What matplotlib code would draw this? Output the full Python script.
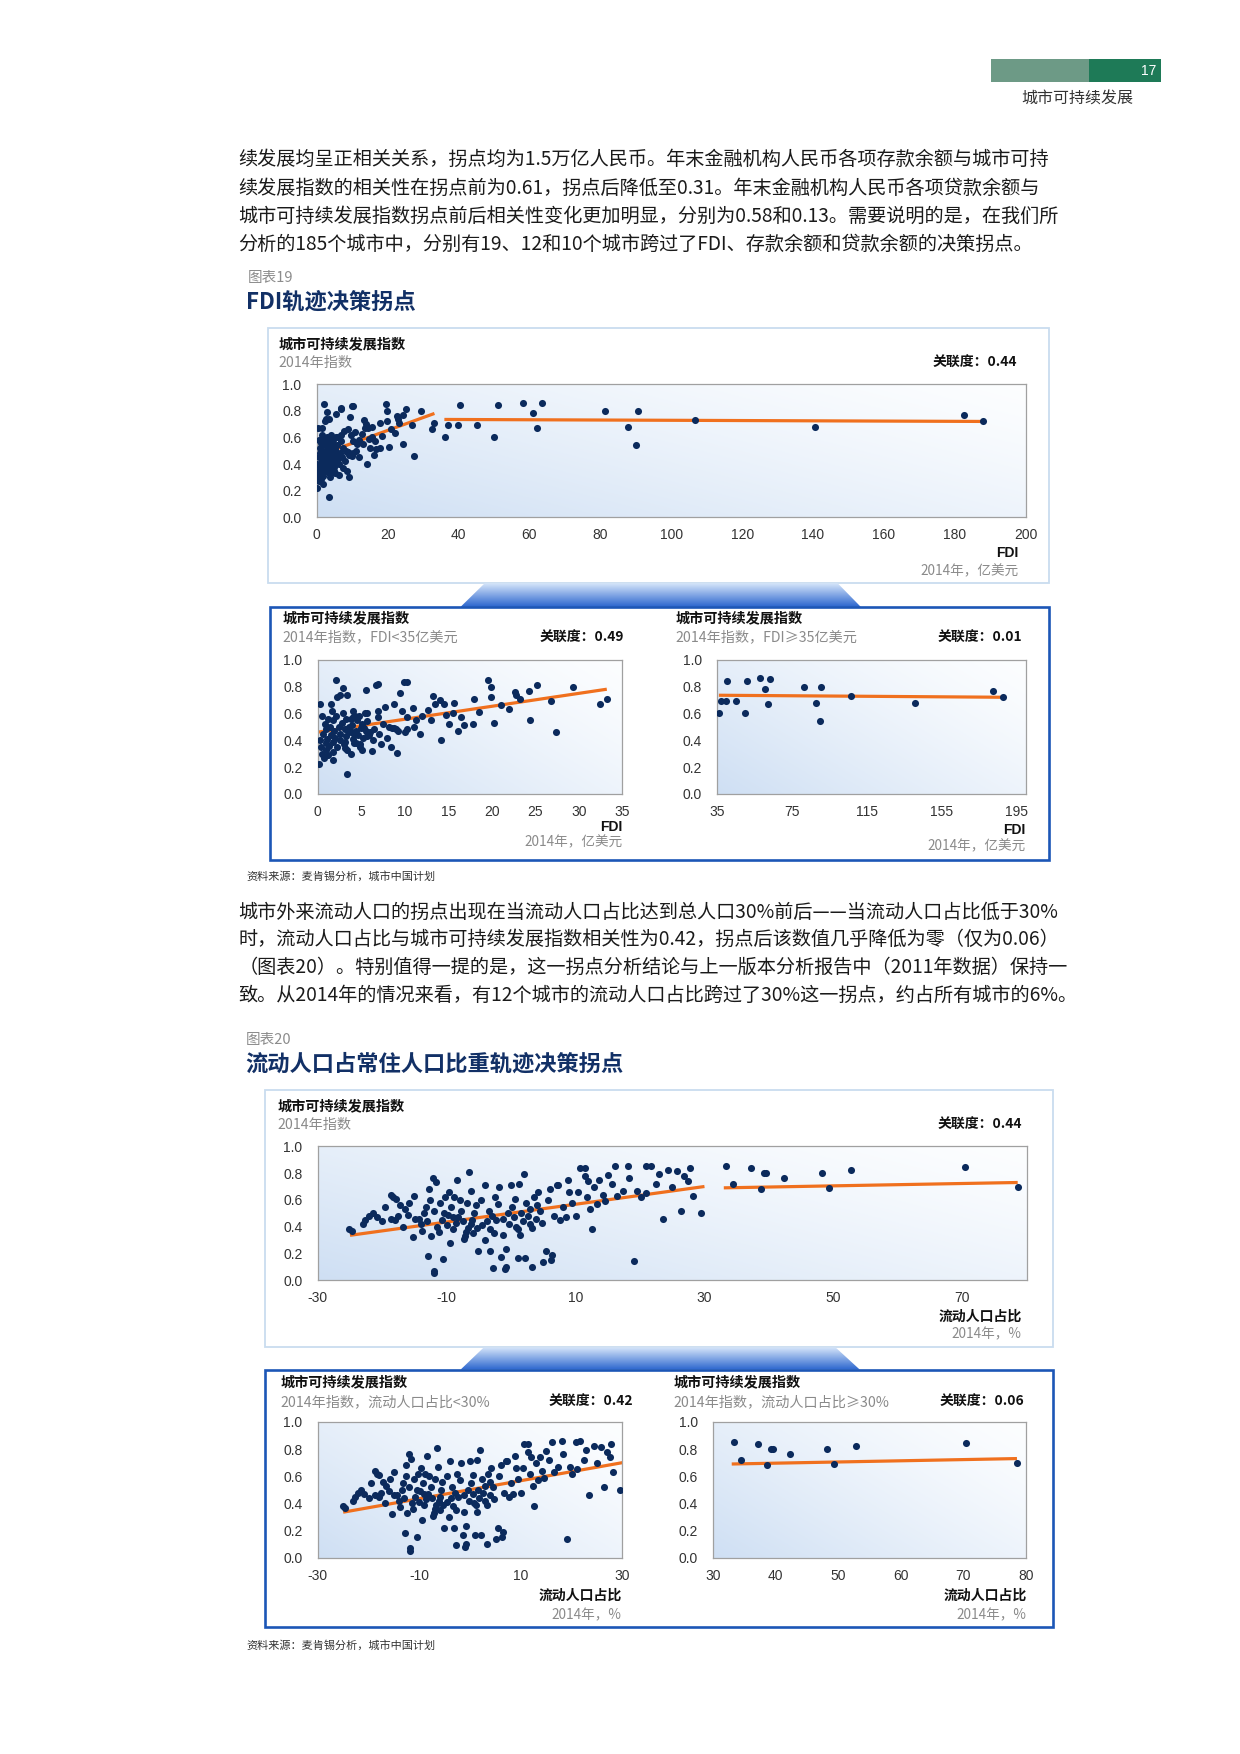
import numpy as np
import matplotlib
matplotlib.use("Agg")
import matplotlib.pyplot as plt
from matplotlib.patches import Polygon, Rectangle

plt.rcParams['font.family'] = ['Noto Sans CJK SC', 'DejaVu Sans']

W, H = 1240, 1754
S = 1.0056  # page layout scale
NAVY = '#0b2a5c'
ORANGE = '#f0701e'
GREY = '#8a8a8a'
TITLE = '#123066'

# ---------------- data: FDI (2014, 亿美元) vs 城市可持续发展指数 ----------------
fdi_x = [0.1, 0.2, 0.3, 0.4, 0.5, 0.5, 0.6, 0.7, 0.8, 0.9, 0.9, 1.0, 1.1, 1.2, 1.2, 1.3,
         1.4, 1.5, 1.6, 1.7, 1.7, 1.8, 1.9, 2.0, 2.1, 2.2, 1.5, 2.4, 2.5, 2.6, 1.7, 2.8,
         2.9, 3.0, 3.1, 3.2, 3.3, 3.4, 2.1, 3.6, 2.2, 3.8, 3.9, 4.0, 4.1, 4.2, 2.5, 4.4,
         4.5, 4.6, 4.7, 4.8, 2.9, 5.0, 5.1, 5.2, 3.1, 3.1, 5.4, 5.5, 3.4, 3.4, 5.7, 5.8,
         3.6, 3.8, 3.9, 4.1, 4.2, 4.3, 4.4, 4.8,
         5.1, 5.1, 5.5, 5.6, 5.7, 5.9, 6.0, 6.2, 6.7, 6.9, 6.9, 6.9, 7.3, 7.7, 8.2, 8.4,
         8.5, 8.7, 8.8, 9.0, 9.1, 9.2, 9.5, 9.7, 9.9, 10.3, 10.3, 10.3, 10.9, 11.3,
         7.0, 7.5, 6.5, 8.0, 10.0, 11.0, 5.3, 6.3,
         12.7, 13.2, 13.5, 14.0, 14.2, 14.5, 14.7, 15.1, 15.7, 16.1, 16.8, 17.8, 17.9,
         19.5, 19.9, 19.9, 20.3, 22.0, 22.6, 22.8, 23.2, 24.3, 24.4, 25.2, 26.8, 27.4,
         29.3, 32.4, 33.2, 12.0, 13.0, 15.5, 18.5, 21.0, 11.8, 16.5,
         36.2, 37.0, 39.8, 40.3, 45.3, 50.1, 51.2, 58.1, 60.9, 62.1, 63.5, 81.3, 87.9,
         90.7, 90.2, 106.7, 140.6, 182.5, 188.0]
fdi_y = [0.22, 0.40, 0.67, 0.35, 0.30, 0.58, 0.45, 0.27, 0.52, 0.38, 0.33, 0.48, 0.41, 0.56, 0.29, 0.36,
         0.50, 0.44, 0.62, 0.39, 0.55, 0.31, 0.47, 0.42, 0.58, 0.35, 0.67, 0.50, 0.45, 0.40, 0.25, 0.53,
         0.60, 0.37, 0.48, 0.43, 0.56, 0.33, 0.85, 0.46, 0.72, 0.30, 0.51, 0.41, 0.62, 0.38, 0.735, 0.47,
         0.55, 0.44, 0.58, 0.35, 0.79, 0.49, 0.52, 0.42, 0.39, 0.345, 0.60, 0.47, 0.74, 0.15, 0.54, 0.44,
         0.50, 0.56, 0.46, 0.57, 0.445, 0.58, 0.38, 0.375,
         0.33, 0.515, 0.775, 0.60, 0.43, 0.44, 0.46, 0.32, 0.815, 0.82, 0.62, 0.57, 0.37, 0.647, 0.50, 0.35,
         0.49, 0.667, 0.49, 0.48, 0.305, 0.47, 0.75, 0.62, 0.835, 0.835, 0.57, 0.48, 0.64, 0.55,
         0.45, 0.52, 0.48, 0.42, 0.46, 0.50, 0.49, 0.40,
         0.625, 0.73, 0.67, 0.70, 0.40, 0.67, 0.59, 0.52, 0.68, 0.47, 0.51, 0.52, 0.71,
         0.85, 0.80, 0.725, 0.53, 0.63, 0.76, 0.74, 0.71, 0.77, 0.55, 0.81, 0.69, 0.46,
         0.80, 0.667, 0.71, 0.58, 0.55, 0.60, 0.61, 0.66, 0.45, 0.57,
         0.60, 0.695, 0.695, 0.84, 0.695, 0.60, 0.84, 0.86, 0.78, 0.67, 0.855, 0.795, 0.68,
         0.795, 0.545, 0.73, 0.68, 0.77, 0.72]
fdi_cut = 35
fdi_fit_low_x = [0, 33.2]
fdi_fit_low_y = [0.46, 0.78]
fdi_fit_high_x = [36, 188]
fdi_fit_high_y = [0.735, 0.72]
fdi_corr = ["0.44", "0.49", "0.01"]
fdi_ticks_all = [0, 20, 40, 60, 80, 100, 120, 140, 160, 180, 200]
fdi_ticks_low = [0, 5, 10, 15, 20, 25, 30, 35]
fdi_ticks_high = [35, 75, 115, 155, 195]

# ---------------- data: 流动人口占比 (2014, %) vs 城市可持续发展指数 ----------------
pop_x = [-25.1, -24.7, -23.0, -22.6, -21.5, -20.8, -19.6, -18.7, -18.4, -17.9, -18.7, -17.5, -18.0,
         -16.5, -16.0, -15.3, -15.0, -14.9, -14.3, -13.9, -15.8, -16.8, -20.0, -22.0, -17.2,
         -12.7, -12.5, -12.9, -11.9, -11.9, -11.7, -11.5, -12.1, -13.2, -13.5, -12.0, -11.0,
         -10.5, -10.8, -10.2, -9.5, -9.8, -9.3, -9.0, -8.6, -8.4, -8.0, -8.2, -7.7, -7.2, -7.0,
         -7.3, -6.7, -6.3, -6.0, -6.6, -6.2, -5.8, -5.5, -5.1, -5.3, -14.0, -13.0, -10.0, -9.0,
         -8.8, -7.5, -6.9, -5.9, -11.2, -10.4, -12.6, -9.6,
         -4.5, -4.1, -4.0, -3.8, -3.5, -3.2, -3.0, -2.8, -2.7, -2.5, -2.3, -2.0, -1.85, -1.5,
         -1.3, -1.2, -1.0, -0.8, -0.8, -0.5, -0.3, 0.0, 0.2, 0.5, 0.8, 1.0, 1.1, 1.3, 1.4, 1.6,
         1.8, 2.0, 2.2, 2.3, 2.6, 3.0, 3.3, 3.3, 3.6, 3.9, 4.2, 4.5, 4.8, 5.0, 5.4, -4.6, -3.3,
         0.6, 2.9, 4.0,
         5.7, 6.2, 6.4, 6.6, 7.1, 7.2, 7.6, 8.0, 8.5, 9.0, 9.4, 10.0, 10.7, 11.4, 11.4, 11.8,
         12.3, 12.5, 12.9, 13.7, 14.2, 15.0, 13.3, 10.4, 8.8, 6.0, 14.6, 12.0,
         15.6, 16.1, 16.5, 17.3, 18.3, 18.1, 19.1, 19.6, 20.1, 20.9, 21.0, 21.7, 22.5, 22.9,
         23.5, 24.4, 25.7, 26.3, 26.9, 27.5, 28.2, 29.5, 25.0, 27.8,
         33.3, 34.5, 37.2, 38.7, 39.2, 39.6, 42.3, 48.3, 49.3, 52.8, 70.4, 78.6]
pop_y = [0.38, 0.366, 0.42, 0.45, 0.50, 0.47, 0.55, 0.64, 0.62, 0.61, 0.46, 0.48, 0.45,
         0.53, 0.49, 0.32, 0.63, 0.46, 0.46, 0.37, 0.58, 0.40, 0.44, 0.48, 0.56,
         0.68, 0.33, 0.18, 0.07, 0.05, 0.73, 0.40, 0.76, 0.55, 0.50, 0.52, 0.58,
         0.155, 0.45, 0.62, 0.28, 0.49, 0.55, 0.385, 0.43, 0.75, 0.60, 0.47, 0.52, 0.33, 0.36,
         0.31, 0.39, 0.67, 0.45, 0.81, 0.42, 0.50, 0.56, 0.215, 0.39, 0.42, 0.44, 0.41, 0.47,
         0.62, 0.44, 0.58, 0.35, 0.36, 0.50, 0.60, 0.66,
         0.41, 0.30, 0.71, 0.44, 0.52, 0.215, 0.48, 0.09, 0.35, 0.62, 0.45, 0.57, 0.70, 0.17,
         0.34, 0.46, 0.08, 0.23, 0.10, 0.50, 0.42, 0.71, 0.55, 0.47, 0.40, 0.165, 0.385, 0.72, 0.34, 0.50,
         0.44, 0.79, 0.165, 0.58, 0.48, 0.53, 0.10, 0.39, 0.62, 0.46, 0.66, 0.52, 0.43, 0.135, 0.22, 0.60, 0.38,
         0.61, 0.42, 0.56,
         0.60, 0.15, 0.19, 0.48, 0.71, 0.71, 0.45, 0.55, 0.47, 0.66, 0.58, 0.48, 0.84, 0.84, 0.78, 0.62,
         0.53, 0.38, 0.70, 0.745, 0.64, 0.785, 0.57, 0.66, 0.75, 0.68, 0.59, 0.74,
         0.72, 0.855, 0.63, 0.67, 0.76, 0.857, 0.14, 0.67, 0.62, 0.855, 0.655, 0.857, 0.72, 0.79,
         0.46, 0.82, 0.815, 0.52, 0.78, 0.74, 0.63, 0.50, 0.70, 0.84,
         0.85, 0.72, 0.84, 0.685, 0.80, 0.80, 0.765, 0.80, 0.69, 0.82, 0.843, 0.70]
pop_cut = 30
pop_fit_low_x = [-25, 30]
pop_fit_low_y = [0.335, 0.70]
pop_fit_high_x = [33, 78.6]
pop_fit_high_y = [0.69, 0.73]
pop_corr = ["0.44", "0.42", "0.06"]
pop_ticks_all = [-30, -10, 10, 30, 50, 70]
pop_ticks_low = [-30, -10, 10, 30]
pop_ticks_high = [30, 40, 50, 60, 70, 80]

para1 = ["续发展均呈正相关关系，拐点均为1.5万亿人民币。年末金融机构人民币各项存款余额与城市可持",
         "续发展指数的相关性在拐点前为0.61，拐点后降低至0.31。年末金融机构人民币各项贷款余额与",
         "城市可持续发展指数拐点前后相关性变化更加明显，分别为0.58和0.13。需要说明的是，在我们所",
         "分析的185个城市中，分别有19、12和10个城市跨过了FDI、存款余额和贷款余额的决策拐点。"]
para2 = ["城市外来流动人口的拐点出现在当流动人口占比达到总人口30%前后——当流动人口占比低于30%",
         "时，流动人口占比与城市可持续发展指数相关性为0.42，拐点后该数值几乎降低为零（仅为0.06）",
         "（图表20）。特别值得一提的是，这一拐点分析结论与上一版本分析报告中（2011年数据）保持一",
         "致。从2014年的情况来看，有12个城市的流动人口占比跨过了30%这一拐点，约占所有城市的6%。"]

# ---------------- figure ----------------
fig = plt.figure(figsize=(W / 100, H / 100), dpi=100, facecolor='white')
bg = fig.add_axes([0, 0, 1, 1])
bg.axis('off')


def txt(x, y, s, size, color='#222222', weight='normal', ha='left', family=None):
    kw = {}
    if family:
        kw['family'] = family
    bg.text(x, y, s, fontsize=size, color=color, fontweight=weight, ha=ha, va='center', **kw)


def rect(x0, y0, x1, y1):
    return [x0 * S / W, 1 - y1 * S / H, (x1 - x0) * S / W, (y1 - y0) * S / H]


def connector(ytop, ybot, top, bot):
    poly = Polygon([(top[0], ytop), (top[1], ytop), (bot[1], ybot), (bot[0], ybot)],
                   closed=True, facecolor='none', edgecolor='none')
    bg.add_patch(poly)
    v = np.linspace(0, 1, 60)[:, None] * np.ones((1, 4))
    c0 = np.array([0.84, 0.90, 0.98])
    c1 = np.array([0.17, 0.40, 0.81])
    img = c0[None, None, :] * (1 - v[:, :, None]) + c1[None, None, :] * v[:, :, None]
    im = bg.imshow(img, extent=(bot[0], bot[1], ybot, ytop), origin='upper',
                   aspect='auto', zorder=1, interpolation='bilinear')
    im.set_clip_path(poly)


def scatter_panel(box, x, y, fits, xlim, xticks):
    ax = fig.add_axes(rect(*box))
    u, v = np.meshgrid(np.linspace(0, 1, 200), np.linspace(0, 1, 100))
    b = np.clip(0.58 * (1 - u) + 0.42 * (1 - v), 0, 1) ** 1.3
    c1 = np.array([0.81, 0.875, 0.955])
    img = (1 - b[:, :, None]) * np.array([0.99, 0.995, 1.0]) + b[:, :, None] * c1
    ax.imshow(img, extent=(0, 1, 0, 1), transform=ax.transAxes, origin='lower',
              aspect='auto', zorder=0)
    for fx, fy in fits:
        ax.plot(fx, fy, color=ORANGE, lw=2.3, zorder=2, solid_capstyle='butt')
    ax.scatter(x, y, s=26, color=NAVY, linewidths=0, zorder=3)
    ax.set_xlim(*xlim)
    ax.set_ylim(0, 1)
    ax.set_xticks(xticks)
    ax.set_xticklabels([str(t) for t in xticks])
    ax.set_yticks([0, 0.2, 0.4, 0.6, 0.8, 1.0])
    ax.set_yticklabels(['0.0', '0.2', '0.4', '0.6', '0.8', '1.0'])
    ax.tick_params(length=0, labelsize=10, labelcolor='#333333', labelfontfamily='Liberation Sans')
    ax.tick_params(axis='x', pad=8)
    ax.tick_params(axis='y', pad=11)
    for sp in ax.spines.values():
        sp.set_color('#a0a0a0')
        sp.set_linewidth(0.9)
    return ax


def panel_head(x, y, sub, corr, corr_right):
    txt(x, y, "城市可持续发展指数", 10.2, '#111111', 'bold')
    txt(x, y + 19, sub, 10.2, GREY)
    txt(corr_right, y + 19, "关联度：" + corr, 10, '#111111', 'bold', ha='right')


# header
bg.add_patch(Rectangle((985, 59), 98, 23, color='#6d9a86', lw=0))
bg.add_patch(Rectangle((1083, 59), 72, 23, color='#1e7a57', lw=0))
txt(1150, 70.5, "17", 10, 'white', ha='right', family='Liberation Sans')
txt(1127, 99, "城市可持续发展", 11.5, '#333333', ha='right')

for i, line in enumerate(para1):
    txt(237, 159 + i * 28, line, 13.8, '#1a1a1a')

txt(246, 276, "图表19", 10.5, '#8c8c8c')
txt(245, 300, "FDI轨迹决策拐点", 16, TITLE, 'bold')

fx = np.array(fdi_x)
fy = np.array(fdi_y)
lo = fx < fdi_cut

# chart 19
bg.add_patch(Rectangle((267, 326), 776, 254, facecolor='white', edgecolor='#c9dcef', lw=1.3))
connector(580, 603.5, (482, 833), (458, 856))
bg.add_patch(Rectangle((268.5, 603.5), 775, 251.5, facecolor='white', edgecolor='#1c56b6', lw=1.9))

panel_head(277, 342, "2014年指数", fdi_corr[0], 1011)
scatter_panel((315, 382, 1020, 514.5), fx, fy,
              [(fdi_fit_low_x, fdi_fit_low_y), (fdi_fit_high_x, fdi_fit_high_y)],
              (0, 200), fdi_ticks_all)
txt(1013, 550, "FDI", 10, '#111111', 'bold', ha='right', family='Liberation Sans')
txt(1013, 568, "2014年，亿美元", 9.8, GREY, ha='right')

panel_head(281, 615, "2014年指数，FDI<35亿美元", fdi_corr[1], 621)
scatter_panel((316, 656, 619, 789.5), fx[lo], fy[lo],
              [(fdi_fit_low_x, fdi_fit_low_y)], (0, 35), fdi_ticks_low)
txt(619, 822, "FDI", 10, '#111111', 'bold', ha='right', family='Liberation Sans')
txt(619, 838, "2014年，亿美元", 9.8, GREY, ha='right')

panel_head(672, 615, "2014年指数，FDI≥35亿美元", fdi_corr[2], 1016)
scatter_panel((713, 656, 1020, 789.5), fx[~lo], fy[~lo],
              [(fdi_fit_high_x, fdi_fit_high_y)], (35, 200), fdi_ticks_high)
txt(1020, 825, "FDI", 10, '#111111', 'bold', ha='right', family='Liberation Sans')
txt(1020, 842, "2014年，亿美元", 9.8, GREY, ha='right')

txt(245, 872, "资料来源：麦肯锡分析，城市中国计划", 8, '#333333')

for i, line in enumerate(para2):
    txt(237, 907 + i * 27.5, line, 13.8, '#1a1a1a')

txt(244, 1034, "图表20", 10.5, '#8c8c8c')
txt(244, 1058, "流动人口占常住人口比重轨迹决策拐点", 16, TITLE, 'bold')

px = np.array(pop_x)
py = np.array(pop_y)
plo = px < pop_cut

# chart 20
bg.add_patch(Rectangle((264, 1083.5), 783, 256, facecolor='white', edgecolor='#c9dcef', lw=1.3))
connector(1340, 1362, (481, 831), (458, 855))
bg.add_patch(Rectangle((264, 1362), 783, 256, facecolor='white', edgecolor='#1c56b6', lw=1.9))

panel_head(276, 1100, "2014年指数", pop_corr[0], 1016)
scatter_panel((316, 1140, 1021, 1273), px, py,
              [(pop_fit_low_x, pop_fit_low_y), (pop_fit_high_x, pop_fit_high_y)],
              (-30, 80), pop_ticks_all)
txt(1016, 1309, "流动人口占比", 10, '#111111', 'bold', ha='right')
txt(1016, 1327, "2014年，%", 9.8, GREY, ha='right')

panel_head(279, 1375, "2014年指数，流动人口占比<30%", pop_corr[1], 630)
scatter_panel((316, 1414, 619, 1549), px[plo], py[plo],
              [(pop_fit_low_x, pop_fit_low_y)], (-30, 30), pop_ticks_low)
txt(618, 1587, "流动人口占比", 10, '#111111', 'bold', ha='right')
txt(618, 1606, "2014年，%", 9.8, GREY, ha='right')

panel_head(670, 1375, "2014年指数，流动人口占比≥30%", pop_corr[2], 1019)
scatter_panel((709, 1414, 1020, 1549), px[~plo], py[~plo],
              [(pop_fit_high_x, pop_fit_high_y)], (30, 80), pop_ticks_high)
txt(1021, 1587, "流动人口占比", 10, '#111111', 'bold', ha='right')
txt(1021, 1606, "2014年，%", 9.8, GREY, ha='right')

txt(245, 1636, "资料来源：麦肯锡分析，城市中国计划", 8, '#333333')

bg.set_xlim(0, W / S)
bg.set_ylim(H / S, 0)

fig.savefig("out.png", dpi=100, facecolor='white')
